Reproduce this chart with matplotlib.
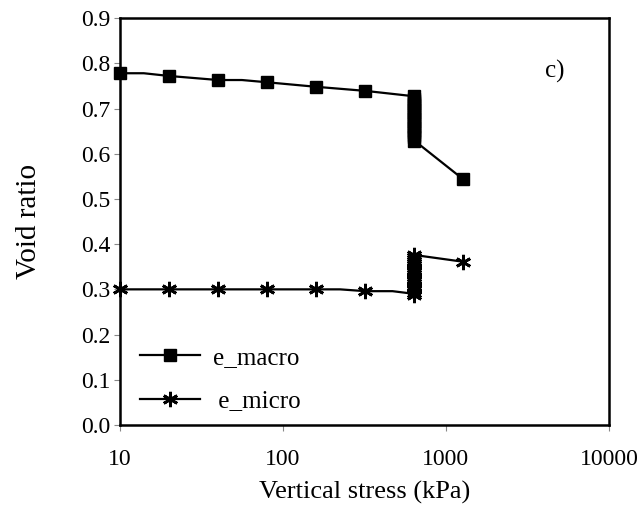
import matplotlib
matplotlib.use("Agg")
import matplotlib.pyplot as plt
from matplotlib.lines import Line2D

# e_macro: marker points and the curve drawn between them
macro_stress = [10, 20, 40, 80, 160, 320,
                640, 640, 640, 640, 640, 640, 640, 640, 640, 640,
                640, 640, 640, 640, 640, 640, 640, 640, 640, 640,
                1280]
macro_e = [0.778, 0.772, 0.763, 0.758, 0.748, 0.739,
           0.727, 0.722, 0.717, 0.712, 0.707, 0.702, 0.697, 0.692, 0.687, 0.682,
           0.677, 0.672, 0.667, 0.662, 0.657, 0.652, 0.647, 0.642, 0.637, 0.629,
           0.543]
macro_line_stress = [10, 14, 20, 40, 56, 80, 160, 320, 640, 640, 1280]
macro_line_e = [0.778, 0.778, 0.772, 0.763, 0.763, 0.758, 0.748, 0.739, 0.727, 0.629, 0.543]

# e_micro
micro_stress = [10, 20, 40, 80, 160, 320,
                640, 640, 640, 640, 640, 640, 640, 640, 640, 640,
                640, 640, 640, 640, 640, 640, 640, 640, 640,
                1280]
micro_e = [0.300, 0.300, 0.300, 0.300, 0.300, 0.296,
           0.288, 0.293, 0.298, 0.303, 0.308, 0.313, 0.318, 0.323, 0.328, 0.333,
           0.338, 0.343, 0.348, 0.353, 0.358, 0.363, 0.368, 0.372, 0.376,
           0.361]
micro_line_stress = [10, 160, 224, 320, 470, 640, 640, 1280]
micro_line_e = [0.300, 0.300, 0.300, 0.296, 0.296, 0.290, 0.376, 0.361]

x_ticks = [10, 100, 1000, 10000]
x_labels = ["10", "100", "1000", "10000"]
y_ticks = [0.0, 0.1, 0.2, 0.3, 0.4, 0.5, 0.6, 0.7, 0.8, 0.9]

plt.rcParams["font.family"] = ["Liberation Serif", "DejaVu Serif"]

fig = plt.figure(figsize=(6.4, 5.08), dpi=100)
ax = fig.add_axes([0.1875, 0.1634, 0.764, 0.801])

star = (6, 2, 0)
ax.plot(macro_line_stress, macro_line_e, color="black", lw=1.6)
ax.plot(macro_stress, macro_e, ls="none", marker="s", ms=9, color="black", clip_on=False)
ax.plot(micro_line_stress, micro_line_e, color="black", lw=1.6)
ax.plot(micro_stress, micro_e, ls="none", marker=star, ms=11, mew=2, color="black", clip_on=False)

ax.set_xscale("log")
ax.set_xlim(10, 10000)
ax.set_ylim(0, 0.9)
ax.set_xticks(x_ticks)
ax.set_xticklabels(x_labels)
ax.minorticks_off()
ax.set_yticks(y_ticks)
ax.set_yticklabels([f"{v:.1f}" for v in y_ticks])
ax.tick_params(labelsize=17, length=4, width=0.8, direction="out", color="#888888")
ax.tick_params(axis="x", pad=13)
ax.tick_params(axis="y", pad=3)
for s in ax.spines.values():
    s.set_linewidth(1.8)

ax.set_xlabel("Vertical stress (kPa)", fontsize=19, labelpad=8)
ax.set_ylabel("Void ratio", fontsize=21, labelpad=28)
ax.text(0.87, 0.855, "c)", transform=ax.transAxes, fontsize=18)

handles = [
    Line2D([], [], color="black", lw=1.6, marker="s", ms=9),
    Line2D([], [], color="black", lw=1.6, marker=star, ms=11, mew=2),
]
ax.legend(handles, ["e_macro", " e_micro"], loc="lower left", bbox_to_anchor=(0.0, -0.018),
          frameon=False, fontsize=18, handlelength=2.4, handletextpad=0.5,
          labelspacing=0.85, borderaxespad=0.4)

fig.savefig("out.png", dpi=100, facecolor="white")
